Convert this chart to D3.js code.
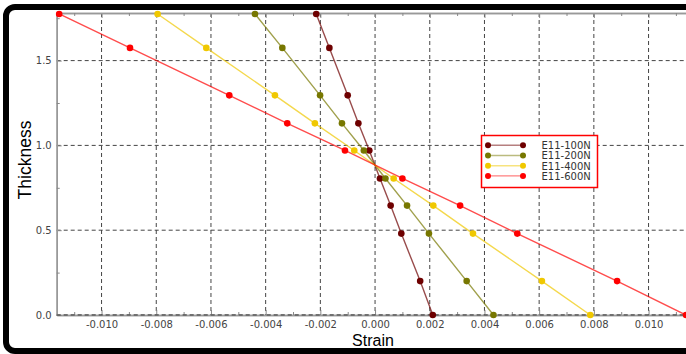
<!DOCTYPE html>
<html><head><meta charset="utf-8">
<script src="https://cdn.jsdelivr.net/npm/d3@7/dist/d3.min.js"></script>
<style>body{margin:0;background:#fff}svg{display:block}</style>
</head><body>
<svg id="c" width="686" height="354"></svg>
<script>
const thickness = [0, 0.2, 0.48, 0.645, 0.805, 0.97, 1.13, 1.295, 1.575, 1.775];
const strain100 = [0.00211, 0.00165, 0.00096, 0.00057, 0.00018, -0.00021, -0.00061, -0.00100, -0.00167, -0.00215];
const strain200 = [0.00433, 0.00335, 0.00197, 0.00117, 0.00038, -0.00041, -0.00121, -0.00201, -0.00339, -0.00439];
const strain400 = [0.00787, 0.00610, 0.00358, 0.00213, 0.00068, -0.00076, -0.00220, -0.00366, -0.00617, -0.00795];
const strain600 = [0.01137, 0.00885, 0.00520, 0.00311, 0.00100, -0.00110, -0.00321, -0.00533, -0.00896, -0.01155];
const seriesNames = ["E11-100N", "E11-200N", "E11-400N", "E11-600N"];
const seriesColors = ["#6e0000", "#777700", "#f0c800", "#ff0000"];
const xMajorTicks = [-0.010, -0.008, -0.006, -0.004, -0.002, 0.000, 0.002, 0.004, 0.006, 0.008, 0.010];
const xMinorTicks = [-0.011, -0.009, -0.007, -0.005, -0.003, -0.001, 0.001, 0.003, 0.005, 0.007, 0.009, 0.011];
const yMajorTicks = [0.0, 0.5, 1.0, 1.5];
const yMinorTicks = [0.25, 0.75, 1.25, 1.75];

const series = [strain100, strain200, strain400, strain600].map((s, i) => ({
  name: seriesNames[i], color: seriesColors[i],
  pts: s.map((v, j) => ({x: v, y: thickness[j]}))
}));

const svg = d3.select("#c");
const L = 56.7, T = 13, B = 315;
const x = d3.scaleLinear().domain([-0.01164, 0.0116]).range([L, L + 0.02324 * 27350]);
const y = d3.scaleLinear().domain([0, 1.78]).range([B, B - 1.78 * 169.6]);
const R = 690;

// frame
svg.append("rect").attr("x", 6).attr("y", 7).attr("width", 720).attr("height", 344)
  .attr("rx", 9).attr("fill", "none").attr("stroke", "#000").attr("stroke-width", 6);

// grid
const g = svg.append("g");
g.selectAll(".vg").data(xMajorTicks).join("line")
  .attr("x1", d => x(d)).attr("x2", d => x(d)).attr("y1", T).attr("y2", B)
  .attr("stroke", "#444").attr("stroke-width", 1).attr("stroke-dasharray", "4,3");
g.selectAll(".hg").data(yMajorTicks).join("line")
  .attr("y1", d => y(d)).attr("y2", d => y(d)).attr("x1", L).attr("x2", R)
  .attr("stroke", "#444").attr("stroke-width", 1).attr("stroke-dasharray", "4,3");

// axes
const fmt = v => v.toFixed(3);
svg.append("g").attr("transform", `translate(0,${B})`)
  .call(d3.axisBottom(x).tickValues(xMajorTicks).tickSize(-5).tickSizeOuter(0).tickPadding(6).tickFormat(fmt));
svg.append("g").attr("transform", `translate(0,${B})`)
  .call(d3.axisBottom(x).tickValues(xMinorTicks).tickSize(-3).tickSizeOuter(0).tickFormat(""));
svg.append("g").attr("transform", `translate(0,${T})`)
  .call(d3.axisTop(x).tickValues(xMajorTicks).tickSize(-5).tickSizeOuter(0).tickFormat(""));
svg.append("g").attr("transform", `translate(0,${T})`)
  .call(d3.axisTop(x).tickValues(xMinorTicks).tickSize(-3).tickSizeOuter(0).tickFormat(""));
svg.append("g").attr("transform", `translate(${L},0)`)
  .call(d3.axisLeft(y).tickValues(yMajorTicks).tickSize(-5).tickSizeOuter(0).tickPadding(5).tickFormat(d3.format(".1f")));
svg.append("g").attr("transform", `translate(${L},0)`)
  .call(d3.axisLeft(y).tickValues(yMinorTicks).tickSize(-3).tickSizeOuter(0).tickFormat(""));
svg.selectAll(".domain").attr("stroke", "#999").attr("stroke-width", 1.5);
svg.selectAll(".tick line").attr("stroke", "#888");
svg.selectAll(".tick text").attr("fill", "#444").style("font-family", "DejaVu Sans").style("font-size", "10px");
svg.append("line").attr("x1", L).attr("x2", R).attr("y1", y(0)).attr("y2", y(0))
  .attr("stroke", "#444").attr("stroke-dasharray", "4,3");

// series
const line = d3.line().x(d => x(d.x)).y(d => y(d.y));
series.forEach(s => {
  svg.append("path").datum(s.pts).attr("d", line).attr("fill", "none")
    .attr("stroke", s.color).attr("stroke-opacity", 0.7).attr("stroke-width", 1.4);
});
series.forEach(s => {
  svg.append("g").selectAll("circle").data(s.pts).join("circle")
    .attr("cx", d => x(d.x)).attr("cy", d => y(d.y)).attr("r", 3.3).attr("fill", s.color);
});

// legend
const lg = svg.append("g");
lg.append("rect").attr("x", 481.5).attr("y", 135.5).attr("width", 116).attr("height", 52)
  .attr("fill", "#fff").attr("stroke", "#ff0000").attr("stroke-width", 1.5);
series.forEach((s, i) => {
  const yy = 145.3 + i * 10.2;
  lg.append("line").attr("x1", 488).attr("x2", 523).attr("y1", yy).attr("y2", yy)
    .attr("stroke", s.color).attr("stroke-opacity", 0.5).attr("stroke-width", 1.4);
  lg.append("circle").attr("cx", 488).attr("cy", yy).attr("r", 3).attr("fill", s.color);
  lg.append("circle").attr("cx", 523).attr("cy", yy).attr("r", 3).attr("fill", s.color);
  lg.append("text").attr("x", 541.5).attr("y", yy + 3.8).text(s.name)
    .attr("fill", "#333").style("font-family", "DejaVu Sans").style("font-size", "10px");
});

// axis titles
svg.append("text").attr("x", 373).attr("y", 346).attr("text-anchor", "middle")
  .style("font-family", "Liberation Sans").style("font-size", "16px").attr("fill", "#000").text("Strain");
svg.append("text").attr("transform", "translate(31,160) rotate(-90)").attr("text-anchor", "middle")
  .style("font-family", "Liberation Sans").style("font-size", "17.5px").attr("fill", "#000").text("Thickness");
</script>
</body></html>
